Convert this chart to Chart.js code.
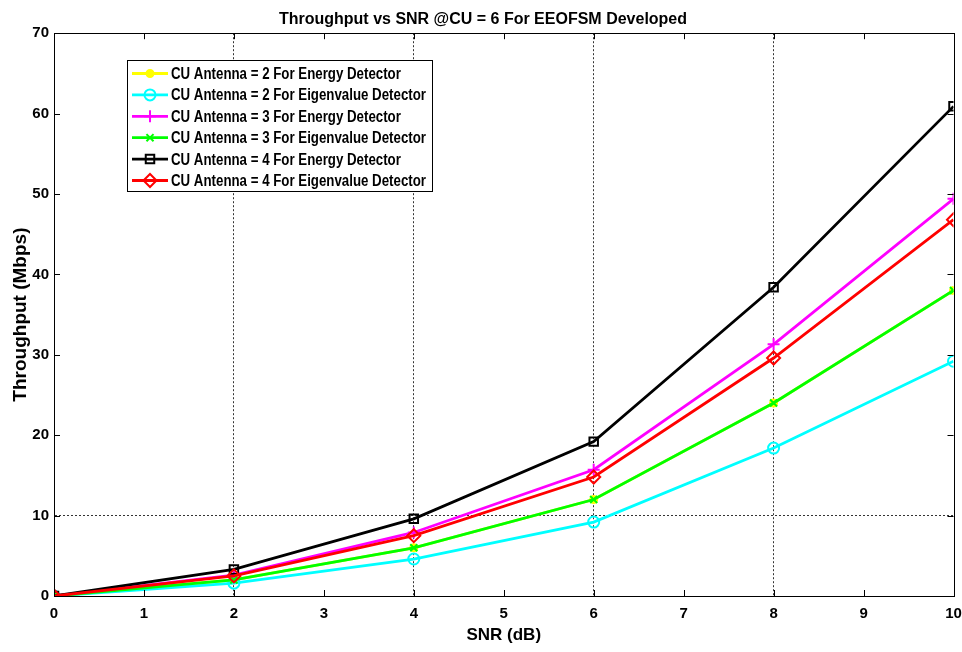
<!DOCTYPE html>
<html>
<head>
<meta charset="utf-8">
<script src="https://cdn.jsdelivr.net/npm/chart.js@4.4.1/dist/chart.umd.min.js"></script>
<style>
  html, body { margin: 0; padding: 0; background: #fff; }
  #wrap { width: 962px; height: 652px; position: relative; }
</style>
</head>
<body>
<div id="wrap"><canvas id="c" width="962" height="652"></canvas></div>
<script>
// ---- data ----
const snrDb = [0, 2, 4, 6, 8, 10];
const cu2Energy = [0, 2.0, 6.0, 12.0, 24.0, 38.0];
const cu2Eigen  = [0, 1.6, 4.6, 9.2, 18.4, 29.2];
const cu3Energy = [0, 2.6, 7.9, 15.7, 31.3, 49.4];
const cu3Eigen  = [0, 2.0, 6.0, 12.0, 24.0, 38.0];
const cu4Energy = [0, 3.3, 9.6, 19.2, 38.4, 60.9];
const cu4Eigen  = [0, 2.5, 7.5, 14.8, 29.6, 46.8];
const seriesLabels = [
  'CU Antenna = 2 For Energy Detector',
  'CU Antenna = 2 For Eigenvalue Detector',
  'CU Antenna = 3 For Energy Detector',
  'CU Antenna = 3 For Eigenvalue Detector',
  'CU Antenna = 4 For Energy Detector',
  'CU Antenna = 4 For Eigenvalue Detector'
];
const xTicks = [0,1,2,3,4,5,6,7,8,9,10];
const yTicks = [0,10,20,30,40,50,60,70];
const xGridAt = [2,4,6,8];
const yGridAt = [10];

const FONT = '"Liberation Sans", Arial, sans-serif';
const NONE = 'rgba(0,0,0,0)';

const styles = [
  { color: '#ffff00', pointStyle: 'circle',   radius: 3.5, fill: '#ffff00' },
  { color: '#00ffff', pointStyle: 'circle',   radius: 5.5, fill: NONE },
  { color: '#ff00ff', pointStyle: 'cross',    radius: 6,   fill: NONE },
  { color: '#00ff00', pointStyle: 'crossRot', radius: 5,   fill: NONE },
  { color: '#000000', pointStyle: 'rect',     radius: 6,   fill: NONE },
  { color: '#ff0000', pointStyle: 'rectRot',  radius: 6.5, fill: NONE }
];
const allSeries = [cu2Energy, cu2Eigen, cu3Energy, cu3Eigen, cu4Energy, cu4Eigen];

const datasets = allSeries.map((vals, i) => ({
  label: seriesLabels[i],
  data: snrDb.map((x, k) => ({ x: x, y: vals[k] })),
  borderColor: styles[i].color,
  backgroundColor: styles[i].fill,
  pointBorderColor: styles[i].color,
  pointBackgroundColor: styles[i].fill,
  pointStyle: styles[i].pointStyle,
  pointRadius: styles[i].radius,
  pointBorderWidth: 2,
  borderWidth: 2.8,
  tension: 0,
  fill: false,
  order: 5 - i
}));

const boxPlugin = {
  id: 'boxPlugin',
  afterDraw(chart) {
    const ctx = chart.ctx;
    const a = chart.chartArea;
    const xs = chart.scales.x, ys = chart.scales.y;
    ctx.save();
    ctx.strokeStyle = '#000';
    ctx.lineWidth = 1;
    ctx.setLineDash([]);
    ctx.strokeRect(Math.round(a.left) + 0.5, Math.round(a.top) + 0.5,
                   Math.round(a.right - a.left), Math.round(a.bottom - a.top));
    const tl = 6;
    ctx.beginPath();
    xTicks.forEach(v => {
      const px = Math.round(xs.getPixelForValue(v)) + 0.5;
      ctx.moveTo(px, a.bottom); ctx.lineTo(px, a.bottom - tl);
      ctx.moveTo(px, a.top); ctx.lineTo(px, a.top + tl);
    });
    yTicks.forEach(v => {
      const py = Math.round(ys.getPixelForValue(v)) + 0.5;
      ctx.moveTo(a.left, py); ctx.lineTo(a.left + tl, py);
      ctx.moveTo(a.right, py); ctx.lineTo(a.right - tl, py);
    });
    ctx.stroke();

    // legend box inside the plot
    const lx = 127, ly = 60, lw = 305, lh = 131;
    ctx.fillStyle = '#fff';
    ctx.fillRect(lx, ly, lw, lh);
    ctx.strokeStyle = '#000';
    ctx.lineWidth = 1;
    ctx.strokeRect(lx + 0.5, ly + 0.5, lw, lh);
    ctx.font = 'bold 16px ' + FONT;
    ctx.textBaseline = 'middle';
    ctx.textAlign = 'left';
    let maxW = 0;
    seriesLabels.forEach(l => { maxW = Math.max(maxW, ctx.measureText(l).width); });
    const sx = 255 / maxW;
    seriesLabels.forEach((lab, i) => {
      const cy = ly + 13.5 + i * 21.4;
      const st = styles[i];
      ctx.strokeStyle = st.color;
      ctx.lineWidth = 2.8;
      ctx.beginPath();
      ctx.moveTo(lx + 5, cy); ctx.lineTo(lx + 41, cy);
      ctx.stroke();
      ctx.lineWidth = 2;
      ctx.fillStyle = st.fill;
      Chart.helpers.drawPoint(ctx, {
        pointStyle: st.pointStyle, radius: st.radius, borderWidth: 2, rotation: 0
      }, lx + 23, cy);
      ctx.save();
      ctx.fillStyle = '#000';
      ctx.translate(lx + 44, cy + 1);
      ctx.scale(sx, 1);
      ctx.fillText(lab, 0, 0);
      ctx.restore();
    });
    ctx.restore();
  }
};

new Chart(document.getElementById('c'), {
  type: 'line',
  data: { datasets: datasets },
  options: {
    responsive: false,
    animation: false,
    layout: { padding: { left: 4, right: 0, top: 1, bottom: 0 } },
    plugins: {
      legend: { display: false },
      tooltip: { enabled: false },
      title: {
        display: true,
        text: 'Throughput vs SNR @CU = 6 For EEOFSM Developed',
        color: '#000',
        font: { family: FONT, size: 16, weight: 'bold' },
        padding: { top: 9, bottom: 4 }
      }
    },
    scales: {
      x: {
        type: 'linear', min: 0, max: 10,
        afterBuildTicks: s => { s.ticks = xTicks.map(v => ({ value: v })); },
        afterFit: s => { s.height = 56; s.paddingLeft = 0; s.paddingRight = 8; },
        ticks: { color: '#000', font: { family: FONT, size: 15, weight: 'bold' }, padding: 9 },
        grid: {
          drawTicks: false,
          lineWidth: 1,
          color: c => (c.tick && xGridAt.includes(c.tick.value)) ? '#333' : NONE
        },
        border: { display: true, color: '#000', dash: [2, 2] },
        title: { display: true, text: 'SNR (dB)', color: '#000',
                 font: { family: FONT, size: 17, weight: 'bold' }, padding: { top: 2, bottom: 6 } }
      },
      y: {
        type: 'linear', min: 0, max: 70,
        afterBuildTicks: s => { s.ticks = yTicks.map(v => ({ value: v })); },
        afterFit: s => { s.width = 50; },
        ticks: { color: '#000', font: { family: FONT, size: 15, weight: 'bold' }, padding: 5 },
        grid: {
          drawTicks: false,
          lineWidth: 1,
          color: c => (c.tick && yGridAt.includes(c.tick.value)) ? '#333' : NONE
        },
        border: { display: true, color: '#000', dash: [2, 2] },
        title: { display: true, text: 'Throughput (Mbps)', color: '#000',
                 font: { family: FONT, size: 19, weight: 'bold' }, padding: { top: 5, bottom: 4 } }
      }
    }
  },
  plugins: [boxPlugin]
});
</script>
</body>
</html>
